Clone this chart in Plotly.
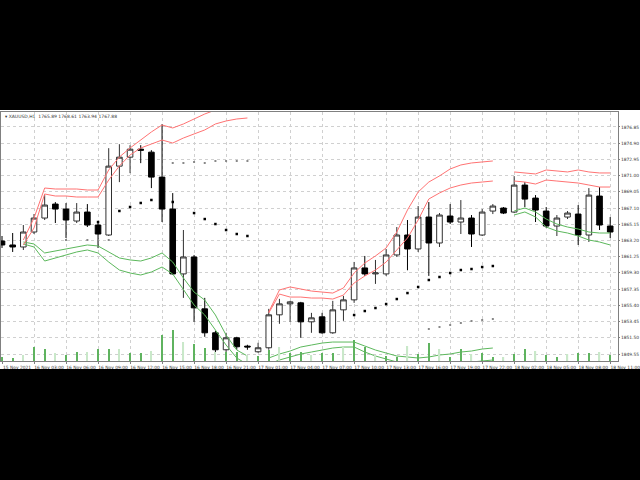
import plotly.graph_objects as go

N = 58
idx = list(range(N))

opens = [1863.14,1862.66,1862.42,1864.22,1865.90,1867.58,1866.98,1865.54,1866.62,1865.06,
         1863.86,1872.14,1873.22,1874.18,1873.82,1870.82,1866.98,1859.18,1861.22,1854.98,
         1852.10,1850.06,1851.50,1850.50,1849.82,1850.30,1854.26,1855.58,1855.70,1853.42,
         1854.02,1852.10,1854.86,1856.06,1859.90,1859.18,1859.18,1861.46,1863.86,1862.18,
         1866.02,1862.90,1866.14,1865.42,1865.90,1863.86,1866.74,1867.10,1866.62,1869.86,
         1868.30,1866.74,1864.94,1866.02,1866.38,1863.86,1868.54,1864.94]
highs = [1863.74,1864.10,1865.06,1866.38,1868.66,1867.82,1867.70,1867.70,1867.58,1865.54,
         1874.30,1874.78,1874.66,1874.66,1874.06,1877.18,1868.90,1864.46,1861.46,1856.30,
         1852.34,1852.10,1851.62,1850.66,1850.90,1854.98,1856.18,1855.94,1855.82,1854.50,
         1854.50,1855.94,1856.54,1860.62,1861.34,1860.86,1862.18,1864.82,1865.66,1867.34,
         1867.82,1866.50,1867.58,1868.06,1866.26,1866.98,1867.58,1867.22,1870.94,1870.22,
         1868.66,1867.22,1866.26,1866.74,1867.46,1869.50,1869.62,1866.02]
lows = [1862.30,1861.82,1862.06,1863.98,1865.66,1865.30,1863.50,1865.30,1864.82,1862.30,
        1863.74,1870.22,1871.30,1872.50,1869.50,1865.42,1859.06,1856.30,1853.42,1851.62,
        1849.10,1849.22,1850.06,1850.06,1849.70,1850.06,1853.18,1853.42,1851.50,1852.10,
        1851.98,1851.98,1853.54,1855.70,1858.94,1857.98,1858.94,1861.22,1859.62,1861.82,
        1858.94,1862.42,1865.18,1863.98,1862.42,1863.74,1866.38,1866.38,1866.50,1867.22,
        1865.42,1864.70,1863.74,1865.78,1862.66,1863.02,1864.46,1863.50]
closes = [1862.66,1862.42,1864.22,1865.90,1867.46,1866.98,1865.66,1866.62,1865.06,1863.98,
          1872.14,1873.22,1874.18,1874.06,1870.82,1866.98,1859.18,1861.22,1855.10,1852.10,
          1850.06,1851.50,1850.42,1850.40,1850.30,1854.26,1855.58,1855.82,1853.42,1853.90,
          1852.10,1854.86,1856.06,1859.90,1859.18,1859.30,1861.46,1863.86,1862.18,1866.02,
          1862.90,1866.26,1865.42,1865.90,1863.98,1866.62,1867.34,1866.50,1869.86,1868.18,
          1866.86,1864.94,1865.90,1866.50,1863.86,1868.66,1865.06,1864.22]

_ = None
red_upper = [_,_,1863.26,1865.90,1869.51,1869.39,1869.39,1869.39,1869.27,1869.27,
             1871.68,1873.24,1874.32,1875.28,1876.25,1877.09,1876.73,1877.21,1877.81,1878.41,
             1878.89,1879.25,1879.49,1879.60,_,1854.60,1857.25,1857.61,1857.37,1857.12,
             1857.00,1856.88,1857.49,1859.29,1860.49,1861.34,1862.30,1864.22,1866.87,1869.03,
             1870.23,1870.96,1871.80,1872.28,1872.52,1872.64,1872.76,_,1871.44,1871.32,
             1871.20,1871.68,1871.56,1871.44,1871.68,1871.44,1871.32,1871.32]
red_lower = [_,_,1862.66,1864.70,1868.79,1868.55,1868.55,1868.43,1868.43,1868.43,
             1870.47,1872.16,1873.48,1874.32,1874.80,1875.28,1874.92,1875.52,1876.01,1876.49,
             1877.21,1877.57,1877.81,1877.93,_,1854.48,1856.76,1856.40,1856.40,1856.28,
             1856.28,1856.16,1856.64,1858.09,1858.93,1859.65,1860.61,1862.06,1863.50,1865.66,
             1868.19,1868.91,1869.51,1869.87,1870.11,1870.23,1870.35,_,1870.35,1870.23,
             1869.99,1870.47,1870.35,1870.23,1870.11,1869.87,1869.63,1869.63]
green_upper = [_,_,1863.02,1862.78,1861.70,1861.94,1862.18,1862.42,1862.66,1862.54,
               1861.82,1861.10,1860.86,1860.73,1861.10,1861.70,1860.61,1858.69,1857.00,1856.04,
               1854.24,1851.83,1850.03,1849.31,_,1849.07,1849.55,1849.91,1850.39,1850.63,
               1850.87,1850.99,1850.99,1850.99,1850.51,1850.03,1849.67,1849.31,1849.19,1849.07,
               1849.19,1849.43,1849.55,1849.79,1849.91,1850.15,1850.27,_,1866.75,1867.11,
               1866.63,1865.78,1865.18,1864.82,1864.58,1864.22,1864.10,1864.10]
green_lower = [_,_,1862.78,1862.42,1860.73,1861.10,1861.46,1861.82,1862.06,1861.70,
               1860.61,1859.65,1859.29,1859.05,1859.41,1860.01,1859.17,1857.25,1855.44,1854.24,
               1852.44,1850.63,1849.07,1848.30,_,1848.35,1848.83,1849.19,1849.55,1849.79,
               1850.03,1850.27,1850.39,1850.39,1849.79,1849.31,1848.95,1848.59,1848.35,1848.11,
               1848.11,1848.23,1848.35,1848.47,1848.59,1848.71,1848.83,_,1866.27,1866.63,
               1866.03,1864.82,1864.34,1864.10,1863.74,1863.26,1863.02,1862.66]

black_dots = [_,_,_,_,_,_,_,_,_,1865.42,
              _,1866.75,1867.23,1867.71,1868.07,_,1867.83,_,1866.50,1865.78,
              1865.18,1864.46,1863.98,1863.74,_,_,_,_,_,_,
              _,_,_,1854.24,1854.72,1855.08,1855.56,1856.16,1856.88,1857.61,
              1858.45,1858.81,1859.29,1859.65,1859.77,1860.01,1860.13,_,_,_,
              _,_,_,_,_,_,_,_]
gray_dots = [_,_,_,_,_,_,1863.26,_,1863.26,1863.26,
             1863.26,_,_,_,_,_,1872.52,1872.52,1872.64,1872.52,
             1872.76,1872.76,1872.76,1872.76,_,_,_,_,_,_,
             _,_,_,_,_,_,_,_,_,_,
             1852.56,1852.80,1853.04,1853.28,1853.52,1853.64,1853.76,_,_,_,
             _,_,_,_,_,_,_,_]

volumes = [200,150,300,700,600,400,300,450,450,600,
           600,600,400,400,500,1300,1550,950,850,650,
           450,450,450,300,250,550,700,400,450,300,
           400,400,700,1050,700,300,250,200,750,350,
           900,600,200,600,350,400,200,200,350,600,
           500,300,200,350,400,400,450,300]
vol_colors = ['#c9e8c9' if i % 3 == 2 else '#5fb35f' for i in idx]

tick_pos = list(range(0, N, 3))
tick_text = ["15 Nov 2021","16 Nov 03:00","16 Nov 06:00","16 Nov 09:00","16 Nov 12:00",
             "16 Nov 15:00","16 Nov 18:00","16 Nov 21:00","17 Nov 01:00","17 Nov 04:00",
             "17 Nov 07:00","17 Nov 10:00","17 Nov 13:00","17 Nov 16:00","17 Nov 19:00",
             "17 Nov 22:00","18 Nov 02:00","18 Nov 05:00","18 Nov 08:00","18 Nov 11:00"]
price_ticks = [1849.55 + 1.95 * k for k in range(15)]

fig = go.Figure()
fig.add_trace(go.Bar(x=idx, y=volumes, marker=dict(color=vol_colors, line=dict(width=0)),
                     width=0.12, yaxis="y2", hoverinfo="skip"))
for ser, col in [(green_upper, '#5cb85c'), (green_lower, '#5cb85c'),
                 (red_upper, '#ff7373'), (red_lower, '#ff7373')]:
    fig.add_trace(go.Scatter(x=idx, y=ser, mode="lines", line=dict(color=col, width=1),
                             connectgaps=False, hoverinfo="skip"))
fig.add_trace(go.Candlestick(x=idx, open=opens, high=highs, low=lows, close=closes,
                             increasing=dict(line=dict(color="#303030", width=1), fillcolor="white"),
                             decreasing=dict(line=dict(color="#000000", width=1), fillcolor="black"),
                             whiskerwidth=0))
fig.add_trace(go.Scatter(x=idx, y=black_dots, mode="markers",
                         marker=dict(color="black", size=2.5, symbol="square")))
fig.add_trace(go.Scatter(x=idx, y=gray_dots, mode="markers",
                         marker=dict(color="#888888", size=2, symbol="square")))

L, R, T, B = 1, 22, 112, 119
W, H = 640, 480
pw, ph = W - L - R, H - T - B
fig.add_shape(type="rect", xref="paper", yref="paper", layer="below",
              x0=(0 - L) / pw, x1=(W - L) / pw,
              y0=(H - B - 369) / ph, y1=(H - B - 110) / ph,
              fillcolor="white", line=dict(width=0))

fig.add_annotation(xref="paper", yref="paper", x=(3 - L) / pw, y=(H - B - 116) / ph,
                   text="\u25be XAUUSD,H1  1765.89 1768.61 1763.94 1767.88", showarrow=False,
                   xanchor="left", yanchor="middle",
                   font=dict(family="DejaVu Sans", size=4.5, color="#333333"))

fig.update_layout(
    width=W, height=H, margin=dict(l=L, r=R, t=T, b=B),
    paper_bgcolor="black", plot_bgcolor="white", showlegend=False, boxgap=0.25,
    xaxis=dict(range=[-0.094, 57.73], tickmode="array", tickvals=tick_pos, ticktext=tick_text,
               showgrid=True, gridcolor="#d0d0d0", griddash="dot", gridwidth=1,
               showline=True, linecolor="#808080", mirror=True, ticks="outside", ticklen=2,
               tickcolor="#808080", rangeslider=dict(visible=False), zeroline=False,
               tickangle=0, ticklabelshift=15, ticklabeloverflow="allow", automargin=False,
               tickfont=dict(family="DejaVu Sans", size=4.4, color="#333333")),
    yaxis=dict(range=[1848.71, 1878.65], side="right", tickmode="array", tickvals=price_ticks,
               ticktext=[f"{v:.2f}" for v in price_ticks], automargin=False,
               ticklabeloverflow="allow",
               showgrid=True, gridcolor="#d0d0d0", griddash="dot", gridwidth=1,
               showline=True, linecolor="#808080", mirror=True, ticks="outside", ticklen=1,
               tickcolor="#808080", zeroline=False,
               tickfont=dict(family="DejaVu Sans", size=4.4, color="#333333")),
    yaxis2=dict(range=[0, 12450], overlaying="y", visible=False),
)
fig.write_html("out.html", config={"displayModeBar": False},
               post_script="document.body.style.margin='0';document.body.style.background='black';")
